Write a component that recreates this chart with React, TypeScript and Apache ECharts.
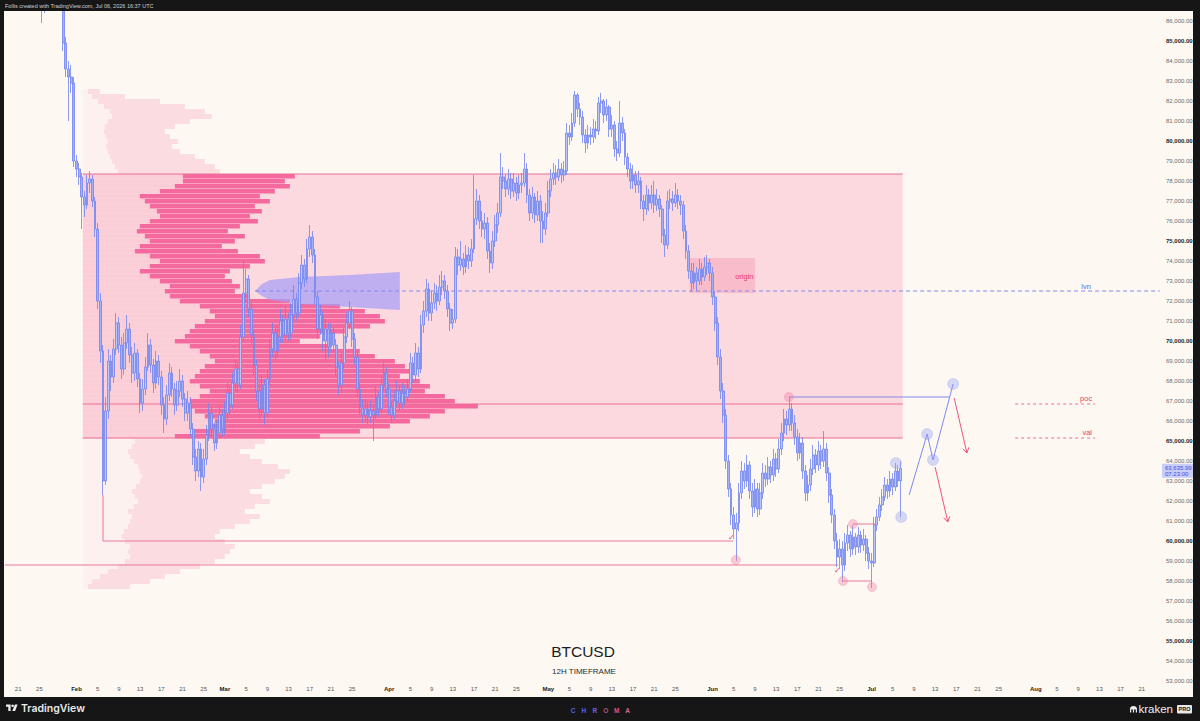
import React, { useEffect, useRef } from "react";
import * as echarts from "echarts";

// ---------- time axis: days since 2026-02-01 00:00 UTC ----------
const firstCandleDay = -8;
const candleStepDays = 0.5; // 12H candles
const firstOpen = 88.9; // thousand USD

// 12H candles [close, high, low] in thousand USD (open = previous close)
const candlesJan = [
  [88.6, 89.2, 88.3], [88.0, 88.8, 87.7], [87.2, 88.2, 86.9], [86.7, 87.5, 85.9], [87.4, 87.8, 86.4], [88.1, 88.5, 87.2],
  [88.7, 89.1, 87.9], [89.0, 89.6, 88.4], [88.5, 89.3, 88.1], [88.0, 88.7, 87.6], [87.3, 88.2, 87.0], [84.9, 87.6, 84.5],
  [83.6, 85.2, 83.2], [83.2, 84.0, 81.0], [82.9, 83.8, 82.4], [79.0, 83.2, 78.7],
];
const candlesFeb = [
  [78.6, 79.3, 78.2], [78.2, 78.9, 77.8], [77.2, 78.4, 75.6], [76.8, 77.5, 76.2], [77.9, 78.3, 76.6], [78.1, 78.5, 77.4],
  [77.0, 78.3, 76.7], [75.6, 77.2, 75.2], [72.0, 75.9, 71.6], [69.5, 72.4, 68.9], [63.0, 69.8, 62.3], [66.5, 67.2, 62.8],
  [69.0, 69.6, 66.1], [68.2, 69.3, 67.5], [69.6, 70.1, 67.9], [70.9, 71.4, 69.3], [69.8, 71.2, 69.4], [68.6, 70.2, 68.1],
  [69.9, 70.4, 68.3], [70.6, 71.3, 69.6], [69.3, 70.9, 68.9], [68.4, 69.7, 67.9], [69.4, 69.9, 68.0], [68.1, 69.6, 67.7],
  [66.9, 68.4, 66.4], [67.6, 68.1, 66.5], [68.7, 69.2, 67.3], [69.8, 70.4, 68.5], [68.8, 70.1, 68.4], [67.9, 69.1, 67.4],
  [69.0, 69.5, 67.6], [68.2, 69.3, 67.8], [66.8, 68.5, 66.3], [66.1, 67.2, 65.4], [67.3, 67.8, 65.8], [68.4, 68.9, 67.0],
  [67.6, 68.7, 67.2], [66.8, 67.9, 66.3], [67.5, 68.0, 66.5], [68.0, 68.6, 67.2], [67.1, 68.3, 66.7], [66.4, 67.4, 66.0],
  [66.9, 67.5, 66.0], [65.6, 67.2, 65.2], [64.2, 65.9, 63.8], [63.5, 64.6, 63.0], [64.6, 65.0, 63.2], [63.2, 64.9, 62.5],
  [64.1, 64.6, 62.9], [65.3, 65.8, 63.8], [66.4, 66.9, 65.0], [65.6, 66.7, 65.2], [64.9, 65.9, 64.5], [65.4, 66.0, 64.6],
  [66.3, 66.8, 65.1], [65.6, 66.6, 65.2],
];
const candlesMar = [
  [66.4, 67.0, 65.3], [67.4, 67.9, 66.1], [66.8, 67.7, 66.3], [67.9, 68.4, 66.6], [68.6, 69.1, 67.5], [67.8, 68.9, 67.4],
  [70.2, 70.8, 67.6], [72.4, 74.0, 70.0], [73.1, 73.6, 71.9], [71.6, 73.3, 71.2], [70.3, 71.9, 69.8], [68.8, 70.6, 68.3],
  [67.5, 69.1, 67.0], [66.6, 67.9, 66.1], [67.8, 68.3, 66.3], [66.4, 68.1, 65.8], [68.1, 68.6, 66.2], [69.6, 70.1, 67.8],
  [70.4, 70.9, 69.2], [69.5, 70.7, 69.1], [70.2, 70.8, 69.2], [71.0, 71.6, 69.9], [70.3, 71.3, 69.9], [71.1, 71.7, 70.0],
  [70.4, 71.4, 70.0], [71.3, 71.9, 70.1], [72.1, 72.8, 71.0], [71.4, 72.4, 71.0], [72.9, 73.4, 71.2], [73.8, 74.3, 72.6],
  [73.1, 74.1, 72.7], [74.6, 75.1, 72.9], [75.2, 75.8, 74.2], [74.3, 75.5, 73.9], [72.2, 74.6, 71.8], [70.6, 72.5, 70.1],
  [71.3, 71.8, 70.3], [70.0, 71.5, 69.5], [70.6, 71.1, 69.0], [69.7, 70.9, 69.2], [70.4, 70.9, 69.4], [69.8, 70.7, 69.4],
  [68.7, 70.1, 68.2], [67.8, 69.0, 67.3], [68.9, 69.4, 67.5], [70.2, 70.7, 68.6], [70.9, 71.4, 69.9], [71.5, 72.0, 70.6],
  [70.1, 71.7, 69.7], [69.2, 70.4, 68.8], [67.6, 69.5, 67.2], [66.7, 67.9, 66.3], [66.3, 67.1, 65.9], [66.6, 67.1, 66.0],
  [66.2, 66.9, 65.8], [66.5, 67.0, 65.9], [66.3, 66.8, 65.0], [67.2, 67.7, 66.1], [66.6, 67.5, 66.2], [67.8, 68.3, 66.4],
  [68.4, 68.9, 67.5], [67.6, 68.7, 67.2],
];
const candlesApr = [
  [66.7, 67.9, 66.3], [66.3, 67.0, 65.9], [67.0, 67.5, 66.1], [67.5, 68.0, 66.7], [66.9, 67.8, 66.5], [67.4, 67.9, 66.6],
  [67.2, 67.8, 66.8], [67.6, 68.1, 67.0], [68.9, 69.4, 67.4], [68.3, 69.2, 67.9], [69.4, 69.9, 68.0], [68.6, 69.7, 68.2],
  [70.8, 71.3, 68.4], [71.5, 72.0, 70.4], [72.6, 73.1, 71.2], [71.4, 72.9, 71.0], [71.9, 72.5, 71.0], [72.4, 72.9, 71.6],
  [72.0, 72.8, 71.5], [72.7, 73.3, 71.8], [73.0, 73.5, 72.3], [72.5, 73.3, 72.1], [71.6, 72.8, 71.2], [70.9, 71.9, 70.5],
  [71.1, 71.6, 70.6], [74.2, 74.7, 70.9], [73.8, 74.6, 73.3], [74.1, 75.0, 73.5], [73.7, 74.4, 73.3], [74.3, 74.8, 73.4],
  [74.0, 74.7, 73.6], [74.6, 75.1, 73.7], [76.1, 78.3, 74.4], [77.0, 77.6, 75.8], [76.0, 77.3, 75.6], [75.6, 76.5, 75.2],
  [75.9, 76.4, 75.1], [74.5, 76.2, 74.1], [73.9, 74.9, 73.4], [75.0, 75.5, 73.6], [75.8, 76.3, 74.7], [76.4, 76.9, 75.4],
  [78.2, 79.4, 76.2], [78.0, 78.7, 77.6], [77.6, 78.3, 77.2], [78.1, 78.6, 77.3], [77.5, 78.4, 77.1], [77.9, 78.4, 77.2],
  [77.4, 78.2, 77.0], [77.8, 78.3, 77.1], [77.9, 78.4, 77.4], [78.6, 79.4, 77.7], [77.3, 78.9, 76.9], [76.4, 77.6, 76.0],
  [77.2, 77.7, 76.1], [76.3, 77.4, 75.9], [77.0, 77.5, 76.0], [76.0, 77.3, 74.9], [75.6, 76.5, 74.9], [76.4, 76.9, 75.3],
];
const candlesMay = [
  [77.5, 78.0, 76.2], [78.1, 78.6, 77.2], [78.4, 78.9, 77.8], [78.2, 78.8, 77.8], [78.6, 79.1, 78.0], [78.3, 78.9, 77.9],
  [78.5, 79.0, 78.0], [80.4, 80.9, 78.3], [80.2, 80.8, 79.8], [80.9, 81.4, 80.0], [82.3, 82.5, 80.7], [81.6, 82.4, 81.2],
  [81.2, 81.9, 80.8], [80.3, 81.5, 79.9], [79.9, 80.6, 79.4], [80.3, 80.8, 79.6], [80.2, 80.7, 79.8], [80.6, 81.1, 79.9],
  [80.5, 81.0, 80.1], [81.9, 82.2, 80.3], [82.0, 82.4, 81.4], [81.3, 82.1, 80.9], [81.7, 82.1, 81.0], [80.6, 81.8, 80.2],
  [80.8, 81.3, 80.2], [79.6, 81.0, 79.2], [79.4, 80.0, 79.0], [80.9, 82.0, 79.2], [80.4, 81.2, 80.0], [79.2, 80.6, 78.8],
  [78.6, 79.4, 78.2], [78.0, 78.9, 77.6], [78.3, 78.8, 77.6], [77.8, 78.5, 77.4], [78.0, 78.5, 77.4], [77.0, 78.2, 76.6],
  [76.6, 77.3, 76.0], [77.3, 77.8, 76.3], [76.9, 77.6, 76.5], [77.3, 77.8, 76.6], [76.8, 78.0, 76.4], [77.1, 77.6, 76.5],
  [76.6, 77.3, 76.2], [75.3, 76.8, 74.9], [74.8, 75.6, 74.2], [77.0, 77.5, 74.6], [77.1, 77.6, 76.6], [76.9, 77.5, 76.5],
  [77.3, 77.9, 76.7], [77.0, 77.6, 76.6], [76.8, 77.3, 76.3], [75.5, 77.0, 75.1], [74.5, 75.8, 74.1], [73.5, 74.8, 73.1],
  [72.9, 73.9, 72.5], [73.4, 73.9, 72.6], [73.0, 73.7, 72.5], [73.6, 74.1, 72.8], [73.2, 73.9, 72.8], [73.7, 74.2, 73.0],
  [73.9, 74.3, 73.3], [73.4, 74.1, 73.0],
];
const candlesJun = [
  [72.2, 73.7, 71.8], [70.9, 72.5, 70.5], [69.2, 71.2, 68.8], [67.5, 69.6, 67.1], [66.3, 67.9, 65.9], [64.0, 66.6, 63.6],
  [62.6, 64.3, 62.2], [61.3, 62.9, 60.8], [60.6, 61.7, 60.1], [60.9, 61.4, 59.0], [62.4, 62.9, 60.5], [63.5, 64.0, 62.1],
  [63.0, 63.9, 62.6], [63.8, 64.3, 62.7], [62.5, 64.0, 62.1], [61.7, 62.9, 61.2], [62.6, 63.1, 61.4], [61.6, 62.9, 61.2],
  [62.4, 62.9, 61.3], [63.4, 63.9, 62.1], [63.1, 63.8, 62.7], [63.7, 64.2, 62.8], [63.3, 64.0, 62.9], [64.1, 64.6, 63.0],
  [63.6, 64.4, 63.2], [64.6, 65.1, 63.4], [65.4, 65.9, 64.3], [66.1, 66.6, 65.0], [65.8, 66.5, 65.3], [66.6, 67.2, 65.5],
  [65.9, 66.9, 65.5], [65.2, 66.3, 64.8], [64.4, 65.6, 64.0], [64.9, 65.4, 64.1], [63.5, 65.2, 63.1], [62.4, 63.8, 62.0],
  [62.8, 63.3, 62.0], [63.6, 64.1, 62.5], [64.3, 64.8, 63.3], [63.8, 64.6, 63.4], [64.5, 65.0, 63.5], [64.0, 64.8, 63.6],
  [64.6, 65.5, 63.7], [63.4, 64.9, 63.0], [62.3, 63.7, 61.9], [61.3, 62.6, 60.9], [60.0, 61.6, 59.6], [59.2, 60.4, 58.7],
  [59.6, 60.1, 58.6], [58.8, 60.0, 57.95], [59.9, 60.4, 58.5], [60.3, 60.8, 59.5], [59.6, 60.5, 59.2], [60.2, 60.8, 59.3],
  [59.7, 60.4, 59.3], [60.3, 60.7, 59.4], [59.8, 60.5, 59.4], [60.1, 60.6, 59.5], [59.4, 60.3, 59.0], [59.0, 59.7, 58.6],
];
const candlesJul = [
  [58.9, 59.4, 57.65], [60.8, 61.2, 58.7], [61.2, 61.6, 60.5], [61.8, 62.2, 61.0], [62.2, 62.6, 61.5], [62.8, 63.2, 62.0],
  [62.5, 63.1, 62.1], [63.1, 63.5, 62.2], [62.7, 63.4, 62.3], [63.5, 63.9, 62.5], [63.0, 63.8, 62.7], [63.63599, 64.0, 61.2],
];

// ---------- axis ticks ----------
const tickDays = [-11, -7, 0, 4, 8, 12, 16, 20, 24, 28, 32, 36, 40, 44, 48, 52, 59, 63, 67, 71, 75, 79, 83, 89, 93, 97, 101, 105, 109, 113,
  120, 124, 128, 132, 136, 140, 144, 150, 154, 158, 162, 166, 170, 174, 181, 185, 189, 193, 197, 201];
const tickLabels = ["21", "25", "Feb", "5", "9", "13", "17", "21", "25", "Mar", "5", "9", "13", "17", "21", "25", "Apr", "5", "9", "13", "17", "21", "25",
  "May", "5", "9", "13", "17", "21", "25", "Jun", "5", "9", "13", "17", "21", "25", "Jul", "5", "9", "13", "17", "21", "25", "Aug", "5", "9", "13", "17", "21"];
const priceTicks = [53000, 54000, 55000, 56000, 57000, 58000, 59000, 60000, 61000, 62000, 63000, 64000, 65000, 66000, 67000, 68000, 69000,
  70000, 71000, 72000, 73000, 74000, 75000, 76000, 77000, 78000, 79000, 80000, 81000, 82000, 83000, 84000, 85000, 86000];

// ---------- volume profile (rows of 250 USD from 57,600) ----------
const profileStart = 57600;
const profileBin = 250;
const profileTotal = [47, 67, 82, 97, 117, 132, 142, 147, 152, 142, 132, 137, 152, 167, 177, 162, 172, 187, 179, 167, 179, 192, 202, 207, 195, 179, 167, 157, 172, 182,
  237, 277, 307, 327, 347, 362, 395, 372, 362, 342, 347, 337, 317, 327, 322, 312, 292, 277, 247, 217, 237, 262, 287, 302, 297, 282, 257, 207, 167, 152,
  157, 149, 142, 147, 167, 182, 177, 155, 139, 152, 162, 145, 157, 175, 167, 179, 172, 187, 177, 192, 207, 202, 212,
  137, 132, 122, 112, 97, 89, 95, 87, 82, 92, 107, 129, 122, 102, 77, 42, 17];
const profileUp = [5, 9, 17, 25, 35, 42, 47, 45, 47, 42, 39, 41, 45, 47, 49, 45, 51, 55, 52, 49, 53, 57, 59, 57, 55, 51, 47, 45, 49, 52,
  92, 112, 127, 132, 122, 112, 102, 107, 117, 127, 117, 107, 112, 117, 122, 132, 127, 117, 107, 92, 102, 107, 112, 122, 132, 127, 117, 97, 87, 82,
  87, 77, 67, 57, 67, 77, 67, 52, 57, 67, 62, 54, 57, 67, 77, 74, 67, 62, 57, 77, 92, 100, 100,
  35, 32, 29, 27, 25, 23, 25, 23, 21, 22, 25, 29, 27, 21, 15, 9, 5];

// ---------- drawings ----------
const vaDays = [1.2, 155.9];
const valPrice = 65150;
const pocPrice = 66850;
const vahPrice = 78350;
const profileReachDay = 75.73;
const originBox = [115.7, 128.0, 72400, 74150];
const lvnPrice = 72500;
const lvnLineDays = [33.7, 204.4];
const lvnCone = [[33.7, 72500], [35.0, 72850], [36.5, 73050], [42.2, 73200], [51.6, 73300], [61.0, 73450],
  [61.0, 71550], [51.6, 71700], [42.2, 71850], [36.5, 72050], [35.0, 72250]];
const supportUpper = [[5.0, 62300], [5.0, 60000], [123.9, 60000]];
const supportLower = [[-13.5, 58800], [143.7, 58800]];
const rangeHighLine = [[146.5, 60850], [151.0, 60850]];
const rangeLowLine = [[144.6, 58000], [150.1, 58000]];
const pocRetestLine = [[134.4, 67200], [164.8, 67200]];
const projectionPath = [[157.1, 62300], [160.5, 65350], [161.6, 64050], [165.4, 67850]];
const futureDashDays = [177.1, 192.2];
const pinkCircles = [[124.4, 59050], [144.6, 58000], [150.1, 57700], [146.5, 60850], [134.4, 67200]];
const blueCircles = [[160.5, 65350], [161.6, 64050], [165.4, 67850], [154.6, 63900], [155.6, 61200]];
const arrowSegments = [[165.6, 67150, 168.0, 64400], [162.0, 63700, 164.4, 60950]];
const noteTexts = ["lvn", "poc", "val", "origin", "✓", "✓"];
const notePositions = [[190.5, 72750], [190.5, 67150], [190.7, 65450], [126.0, 73250], [123.5, 60200], [143.5, 58550]];
const countdownText = "07:23:00";
const headerText = "Follis created with TradingView.com, Jul 06, 2026 16:37 UTC";
const chromaLetters = ["C", "H", "R", "O", "M", "A"];

// ---------- styles ----------
const CREAM = "#fdf9f2";
const FRAME = "#161616";
const PINK_LINE = "#ec6d94";
const BLUE_LINE = "#8089ee";
const FONT = "'Liberation Sans', Arial, sans-serif";

const fmtPrice = (v: number) => v.toLocaleString("en-US", { minimumFractionDigits: 2, maximumFractionDigits: 2 });

export default function App() {
  const ref = useRef<HTMLDivElement>(null);

  useEffect(() => {
    document.body.style.margin = "0";
    const chart = echarts.init(ref.current!, undefined, { renderer: "svg" });

    const allCandles = [...candlesJan, ...candlesFeb, ...candlesMar, ...candlesApr, ...candlesMay, ...candlesJun, ...candlesJul];
    let prev = firstOpen;
    const candleData = allCandles.map(([c, h, l], i) => {
      const o = prev;
      prev = c;
      return [firstCandleDay + i * candleStepDays, o * 1000, c * 1000, Math.min(l, o, c) * 1000, Math.max(h, o, c) * 1000];
    });
    const last = candleData[candleData.length - 1];
    const lastDay = last[0];
    const lastClose = last[2];

    const maxVol = Math.max(...profileTotal);
    const volToDay = (v: number) => vaDays[0] + (v / maxVol) * (profileReachDay - vaDays[0]);

    const lineSeries = (data: number[][], color: string, dash: any = "solid", z = 4) => ({
      type: "line",
      data,
      symbol: "none",
      silent: true,
      z,
      lineStyle: { color, width: 1, type: dash },
    });

    const boxRender = (box: number[], fill: string) => (params: any, api: any) => {
      const a = api.coord([box[0], box[3]]);
      const b = api.coord([box[1], box[2]]);
      return { type: "rect", shape: { x: a[0], y: a[1], width: b[0] - a[0], height: b[1] - a[1] }, style: { fill } };
    };

    const option: any = {
      animation: false,
      backgroundColor: CREAM,
      textStyle: { fontFamily: FONT },
      grid: { left: 5, right: 40, top: 12, bottom: 38 },
      xAxis: {
        type: "value",
        min: -13.49,
        max: 204.43,
        axisLine: { show: false },
        axisTick: { show: false },
        splitLine: { show: false },
        axisLabel: {
          customValues: tickDays,
          margin: 3,
          fontSize: 6,
          color: "#555",
          formatter: (v: number) => {
            const i = tickDays.indexOf(Math.round(v));
            const t = i >= 0 ? tickLabels[i] : "";
            return /^[A-Z]/.test(t) ? `{m|${t}}` : t;
          },
          rich: { m: { fontWeight: "bold", color: "#222", fontSize: 6 } },
        },
      },
      yAxis: {
        type: "value",
        position: "right",
        min: 52900,
        max: 86450,
        axisLine: { show: false },
        axisTick: { show: false },
        splitLine: { show: false },
        axisLabel: {
          customValues: priceTicks,
          margin: 6,
          fontSize: 6,
          formatter: (v: number) => (v % 5000 === 0 ? `{b|${fmtPrice(v)}}` : `{n|${fmtPrice(v)}}`),
          rich: {
            b: { fontWeight: "bold", color: "#1e1e1e", fontSize: 6 },
            n: { color: "#6a6a6a", fontSize: 6 },
          },
        },
      },
      series: [
        // value area background
        { type: "custom", z: 1, silent: true, data: [[vaDays[0], vahPrice]], renderItem: boxRender([vaDays[0], vaDays[1], valPrice, vahPrice], "#fcd9de") },
        // origin box
        { type: "custom", z: 2, silent: true, data: [[originBox[0], originBox[3]]], renderItem: boxRender(originBox, "#f8bccb") },
        // volume profile
        {
          type: "custom",
          z: 2,
          silent: true,
          data: profileTotal.map((_, k) => [vaDays[0], profileStart + k * profileBin + profileBin / 2]),
          renderItem: (params: any, api: any) => {
            const k = params.dataIndex;
            const lo = profileStart + k * profileBin;
            const hi = lo + profileBin;
            const mid = (lo + hi) / 2;
            const inVA = mid >= valPrice && mid <= vahPrice;
            const top = api.coord([vaDays[0], hi]);
            const bot = api.coord([vaDays[0], lo]);
            const xUp = api.coord([volToDay(profileUp[k]), lo])[0];
            const xEnd = api.coord([volToDay(profileTotal[k]), lo])[0];
            const gap = inVA ? 0.45 : 0;
            const h = bot[1] - top[1] - gap;
            return {
              type: "group",
              children: [
                { type: "rect", shape: { x: top[0], y: top[1], width: xUp - top[0], height: h }, style: { fill: inVA ? "#fbcdd6" : "#fdf1ef" } },
                { type: "rect", shape: { x: xUp, y: top[1], width: xEnd - xUp, height: h }, style: { fill: inVA ? "#f4699e" : "#fbdde1" } },
              ],
            };
          },
        },
        // lvn cone
        {
          type: "custom",
          z: 3,
          silent: true,
          data: [lvnCone[0]],
          renderItem: (params: any, api: any) => ({
            type: "polygon",
            shape: { points: lvnCone.map((p) => api.coord(p)) },
            style: { fill: "rgba(168,156,246,0.72)" },
          }),
        },
        // value area lines
        lineSeries([[vaDays[0], vahPrice], [vaDays[1], vahPrice]], PINK_LINE),
        lineSeries([[vaDays[0], pocPrice], [vaDays[1], pocPrice]], PINK_LINE),
        lineSeries([[vaDays[0], valPrice], [vaDays[1], valPrice]], PINK_LINE),
        lineSeries(supportUpper, "#e9789b"),
        lineSeries(supportLower, "#e9789b"),
        lineSeries(rangeHighLine, "#e9789b"),
        lineSeries(rangeLowLine, "#e9789b"),
        lineSeries([[lvnLineDays[0], lvnPrice], [lvnLineDays[1], lvnPrice]], BLUE_LINE, [4, 3]),
        lineSeries([[futureDashDays[0], pocPrice], [futureDashDays[1], pocPrice]], "#ea6f95", [3, 3]),
        lineSeries([[futureDashDays[0], valPrice], [futureDashDays[1], valPrice]], "#ea6f95", [3, 3]),
        lineSeries(pocRetestLine, BLUE_LINE, "solid", 6),
        lineSeries(projectionPath, BLUE_LINE, "solid", 6),
        // candles
        {
          type: "candlestick",
          z: 5,
          clip: true,
          silent: true,
          barWidth: 2.3,
          dimensions: ["day", "open", "close", "low", "high"],
          encode: { x: "day", y: ["open", "close", "low", "high"] },
          data: candleData,
          itemStyle: {
            color: "#bcc5f8",
            color0: "#a3b0f6",
            borderColor: "#7084ef",
            borderColor0: "#7084ef",
            borderWidth: 0.8,
          },
        },
        // circles
        {
          type: "scatter",
          z: 7,
          silent: true,
          symbolSize: 9,
          data: pinkCircles,
          itemStyle: { color: "rgba(241,118,158,0.45)", borderColor: "rgba(236,100,145,0.5)", borderWidth: 0.6 },
        },
        {
          type: "scatter",
          z: 7,
          silent: true,
          symbolSize: 11,
          data: blueCircles,
          itemStyle: { color: "rgba(150,162,246,0.5)", borderColor: "rgba(120,135,240,0.45)", borderWidth: 0.6 },
        },
        // arrows
        {
          type: "custom",
          z: 7,
          silent: true,
          data: arrowSegments.map((s) => [s[0], s[1]]),
          renderItem: (params: any, api: any) => {
            const s = arrowSegments[params.dataIndex];
            const a = api.coord([s[0], s[1]]);
            const b = api.coord([s[2], s[3]]);
            const ang = Math.atan2(b[1] - a[1], b[0] - a[0]);
            const L = 6;
            const h1 = [b[0] - L * Math.cos(ang - 0.55), b[1] - L * Math.sin(ang - 0.55)];
            const h2 = [b[0] - L * Math.cos(ang + 0.55), b[1] - L * Math.sin(ang + 0.55)];
            const st = { stroke: "#ee527f", lineWidth: 1, fill: "none" };
            return {
              type: "group",
              children: [
                { type: "line", shape: { x1: a[0], y1: a[1], x2: b[0], y2: b[1] }, style: st },
                { type: "polyline", shape: { points: [h1, b, h2] }, style: st },
              ],
            };
          },
        },
        // notes
        {
          type: "custom",
          z: 8,
          silent: true,
          data: notePositions,
          renderItem: (params: any, api: any) => {
            const t = noteTexts[params.dataIndex];
            const p = api.coord(notePositions[params.dataIndex]);
            return {
              type: "text",
              x: p[0],
              y: p[1],
              style: {
                text: t,
                fill: t === "lvn" ? "#5f69ec" : "#e6396f",
                fontSize: t === "✓" ? 8 : 7.5,
                fontFamily: FONT,
                align: "center",
                verticalAlign: "middle",
              },
            };
          },
        },
        // last price tag
        {
          type: "custom",
          z: 9,
          silent: true,
          clip: false,
          data: [[lastDay, lastClose]],
          renderItem: (params: any, api: any) => {
            const y = api.coord([lastDay, lastClose])[1];
            const x = params.coordSys.x + params.coordSys.width;
            return {
              type: "group",
              children: [
                { type: "rect", shape: { x: x + 2, y: y - 4.5, width: 31, height: 14 }, style: { fill: "#c9cdf8" } },
                { type: "text", x: x + 5, y: y, style: { text: fmtPrice(lastClose), fill: "#3d4de0", fontSize: 6, fontFamily: FONT, verticalAlign: "middle" } },
                { type: "text", x: x + 5, y: y + 6, style: { text: countdownText, fill: "#3d4de0", fontSize: 6, fontFamily: FONT, verticalAlign: "middle" } },
              ],
            };
          },
        },
      ],
      graphic: {
        elements: [
          { type: "rect", z: 100, silent: true, shape: { x: 0, y: 0, width: 1200, height: 11 }, style: { fill: FRAME } },
          { type: "rect", z: 100, silent: true, shape: { x: 0, y: 697, width: 1200, height: 24 }, style: { fill: FRAME } },
          { type: "rect", z: 100, silent: true, shape: { x: 0, y: 0, width: 4, height: 721 }, style: { fill: FRAME } },
          { type: "rect", z: 100, silent: true, shape: { x: 1193, y: 0, width: 7, height: 721 }, style: { fill: FRAME } },
          { type: "text", z: 101, silent: true, x: 5, y: 5.5, style: { text: headerText, fill: "#d0d0d0", fontSize: 5.5, fontFamily: FONT, verticalAlign: "middle" } },
          // title
          { type: "text", z: 101, silent: true, x: 583, y: 651, style: { text: "BTCUSD", fill: "#1c1c1c", fontSize: 15.5, fontFamily: FONT, align: "center", verticalAlign: "middle" } },
          { type: "text", z: 101, silent: true, x: 584, y: 671, style: { text: "12H TIMEFRAME", fill: "#2a2a2a", fontSize: 8, fontFamily: FONT, align: "center", verticalAlign: "middle" } },
          // TradingView logo
          { type: "polygon", z: 101, silent: true, shape: { points: [[6, 704.5], [10.6, 704.5], [10.6, 711], [8.3, 711], [8.3, 706.8], [6, 706.8]] }, style: { fill: "#eeeeee" } },
          { type: "circle", z: 101, silent: true, shape: { cx: 12.6, cy: 705.8, r: 1.3 }, style: { fill: "#eeeeee" } },
          { type: "polygon", z: 101, silent: true, shape: { points: [[12.3, 711], [14.9, 704.5], [17.6, 704.5], [15.1, 711]] }, style: { fill: "#eeeeee" } },
          { type: "text", z: 101, silent: true, x: 21, y: 708, style: { text: "TradingView", fill: "#eaeaea", fontSize: 10.5, fontWeight: 600, fontFamily: "Inter, sans-serif", verticalAlign: "middle" } },
          // CHROMA
          ...chromaLetters.map((ch, i) => ({
            type: "text", z: 101, silent: true, x: 573 + i * 10.9, y: 710,
            style: { text: ch, fill: ["#4f66f0", "#5a63ee", "#6e64ea", "#b4507e", "#e24e86", "#d9678c"][i], fontSize: 6.5, fontWeight: "bold", fontFamily: FONT, align: "center", verticalAlign: "middle" },
          })),
          // kraken PRO
          { type: "sector", z: 101, silent: true, shape: { cx: 1133.5, cy: 709.5, r0: 0, r: 3.6, startAngle: Math.PI, endAngle: 2 * Math.PI }, style: { fill: "#eeeeee" } },
          { type: "rect", z: 101, silent: true, shape: { x: 1130, y: 709.3, width: 1.2, height: 3.2 }, style: { fill: "#eeeeee" } },
          { type: "rect", z: 101, silent: true, shape: { x: 1132.9, y: 709.3, width: 1.2, height: 3.2 }, style: { fill: "#eeeeee" } },
          { type: "rect", z: 101, silent: true, shape: { x: 1135.8, y: 709.3, width: 1.2, height: 3.2 }, style: { fill: "#eeeeee" } },
          { type: "text", z: 101, silent: true, x: 1138.5, y: 708.5, style: { text: "kraken", fill: "#f0f0f0", fontSize: 11.5, fontFamily: FONT, verticalAlign: "middle" } },
          { type: "rect", z: 101, silent: true, shape: { x: 1177, y: 705, width: 15, height: 8.5, r: 1 }, style: { fill: "#e8e8e8" } },
          { type: "text", z: 102, silent: true, x: 1184.5, y: 709.3, style: { text: "PRO", fill: "#161616", fontSize: 5.5, fontWeight: "bold", fontFamily: FONT, align: "center", verticalAlign: "middle" } },
        ],
      },
    };

    chart.setOption(option);
    return () => chart.dispose();
  }, []);

  return <div ref={ref} style={{ position: "fixed", left: 0, top: 0, width: 1200, height: 721 }} />;
}
